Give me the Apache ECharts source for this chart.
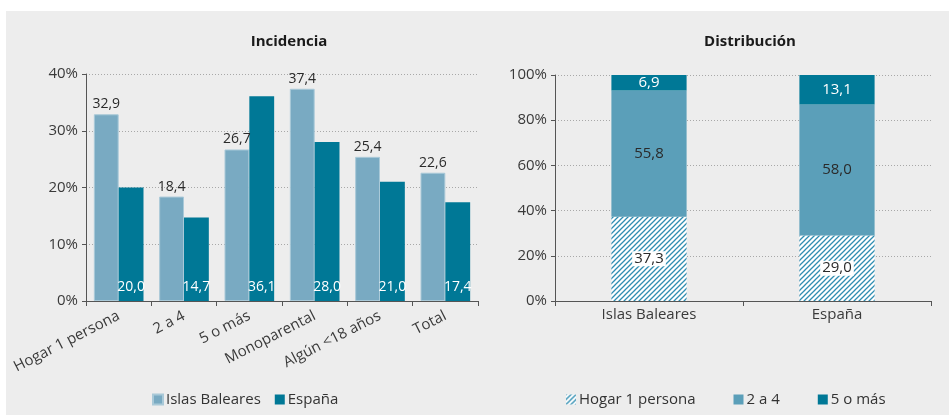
<!DOCTYPE html>
<html>
<head>
<meta charset="utf-8">
<script src="https://cdn.jsdelivr.net/npm/echarts@6/dist/echarts.min.js"></script>
<style>
  html, body { margin: 0; padding: 0; background: #ffffff; }
  #wrap { position: absolute; left: 6px; top: 11px; width: 943px; height: 404px; background: #ededed; }
  #chart { position: absolute; left: 0; top: 0; width: 949px; height: 415px; }
</style>
</head>
<body>
<div id="wrap"></div>
<div id="chart"></div>
<script>
// Incidencia por tipo de hogar (%)
const incCategories = ['Hogar 1 persona', '2 a 4', '5 o más', 'Monoparental', 'Algún <18 años', 'Total'];
const incBaleares = [32.9, 18.4, 26.7, 37.4, 25.4, 22.6];
const incEspana = [20.0, 14.7, 36.1, 28.0, 21.0, 17.4];
const incTicks = [0, 10, 20, 30, 40];

// Distribución por tamaño de hogar (%)
const distCategories = ['Islas Baleares', 'España'];
const distHogar1 = [37.3, 29.0];
const distDosACuatro = [55.8, 58.0];
const distCincoOMas = [6.9, 13.1];
const distTicks = [0, 20, 40, 60, 80, 100];

const FONT = '"Open Sans", Lato, sans-serif';
const fmt = v => v.toFixed(1).replace('.', ',');

// Diagonal hatch tile for "Hogar 1 persona"
function hatchTile() {
  const p = 5;
  const c = document.createElement('canvas');
  c.width = p; c.height = p;
  const g = c.getContext('2d');
  g.fillStyle = '#ffffff';
  g.fillRect(0, 0, p, p);
  g.strokeStyle = '#2f8db1';
  g.lineWidth = 1.3;
  g.beginPath();
  g.moveTo(-1, p + 1); g.lineTo(p + 1, -1);
  g.moveTo(-1, 1); g.lineTo(1, -1);
  g.moveTo(p - 1, p + 1); g.lineTo(p + 1, p - 1);
  g.stroke();
  return c;
}
const hatch = { image: hatchTile(), repeat: 'repeat' };

const chart = echarts.init(document.getElementById('chart'), null, { renderer: 'canvas' });

const axisLabelStyle = { color: '#3a3a3a', fontFamily: FONT, fontSize: 15 };
const splitDotted = { show: true, lineStyle: { color: '#a8a8a8', type: [1, 2], width: 1 } };
const axisLineDark = { show: true, lineStyle: { color: '#555555', width: 1 } };

chart.setOption({
  animation: false,
  backgroundColor: 'transparent',
  textStyle: { fontFamily: FONT },
  title: [
    { text: 'Incidencia', left: 284, top: 29, textAlign: 'center',
      textStyle: { fontFamily: FONT, fontSize: 15, fontWeight: 'bold', color: '#1a1a1a' } },
    { text: 'Distribución', left: 745, top: 29, textAlign: 'center',
      textStyle: { fontFamily: FONT, fontSize: 15, fontWeight: 'bold', color: '#1a1a1a' } }
  ],
  legend: [
    { data: ['Islas Baleares', 'España'], left: 147, top: 387, itemWidth: 10, itemHeight: 10,
      itemGap: 14, icon: 'rect', textStyle: { fontFamily: FONT, fontSize: 15, color: '#333', padding: [0, 0, 0, -2] } },
    { data: ['Hogar 1 persona', '2 a 4', '5 o más'], left: 561, top: 387, itemWidth: 10, itemHeight: 10,
      itemGap: 38, icon: 'rect', textStyle: { fontFamily: FONT, fontSize: 15, color: '#333', padding: [0, 0, 0, -2] } }
  ],
  grid: [
    { left: 86, right: 471, top: 74, bottom: 114 },
    { left: 555, right: 18, top: 75, bottom: 114 }
  ],
  xAxis: [
    { type: 'category', gridIndex: 0, data: incCategories,
      axisLine: axisLineDark, axisTick: { show: true, length: 5, lineStyle: { color: '#555' } },
      axisLabel: Object.assign({}, axisLabelStyle, { rotate: 27, margin: 14 }) },
    { type: 'category', gridIndex: 1, data: distCategories,
      axisLine: axisLineDark, axisTick: { show: true, length: 5, lineStyle: { color: '#555' } },
      axisLabel: Object.assign({}, axisLabelStyle, { margin: 6 }) }
  ],
  yAxis: [
    { type: 'value', gridIndex: 0, min: incTicks[0], max: incTicks[incTicks.length - 1], interval: 10,
      axisLine: axisLineDark, axisTick: { show: true, length: 4, lineStyle: { color: '#555' } },
      splitLine: splitDotted,
      axisLabel: Object.assign({}, axisLabelStyle, { formatter: '{value}%', margin: 8 }) },
    { type: 'value', gridIndex: 1, min: distTicks[0], max: distTicks[distTicks.length - 1], interval: 20,
      axisLine: axisLineDark, axisTick: { show: true, length: 4, lineStyle: { color: '#555' } },
      splitLine: splitDotted,
      axisLabel: Object.assign({}, axisLabelStyle, { formatter: '{value}%', margin: 8 }) }
  ],
  series: [
    { name: 'Islas Baleares', type: 'bar', xAxisIndex: 0, yAxisIndex: 0, data: incBaleares,
      barGap: '0%', barCategoryGap: '24%',
      itemStyle: { color: '#79aac2', borderColor: '#a9c9d8', borderWidth: 1 },
      label: { show: true, position: 'top', distance: 3, formatter: p => fmt(p.value),
        fontFamily: FONT, fontSize: 14, color: '#2a2a2a' } },
    { name: 'España', type: 'bar', xAxisIndex: 0, yAxisIndex: 0, data: incEspana,
      barGap: '0%', barCategoryGap: '24%',
      itemStyle: { color: '#007896' },
      label: { show: true, position: 'insideBottom', distance: 7, formatter: p => fmt(p.value),
        fontFamily: FONT, fontSize: 14, color: '#ffffff' } },
    { name: 'Hogar 1 persona', type: 'bar', stack: 'dist', xAxisIndex: 1, yAxisIndex: 1, data: distHogar1,
      barWidth: '40%',
      itemStyle: { color: hatch },
      label: { show: true, position: 'inside', formatter: p => fmt(p.value),
        fontFamily: FONT, fontSize: 15, color: '#2a2a2a', backgroundColor: '#ffffff', padding: [0, 2] } },
    { name: '2 a 4', type: 'bar', stack: 'dist', xAxisIndex: 1, yAxisIndex: 1, data: distDosACuatro,
      barWidth: '40%',
      itemStyle: { color: '#5b9fb9' },
      label: { show: true, position: 'inside', formatter: p => fmt(p.value),
        fontFamily: FONT, fontSize: 15, color: '#2a2a2a' } },
    { name: '5 o más', type: 'bar', stack: 'dist', xAxisIndex: 1, yAxisIndex: 1, data: distCincoOMas,
      barWidth: '40%',
      itemStyle: { color: '#007896' },
      label: { show: true, position: 'inside', formatter: p => fmt(p.value),
        fontFamily: FONT, fontSize: 15, color: '#ffffff' } }
  ]
});
</script>
</body>
</html>
